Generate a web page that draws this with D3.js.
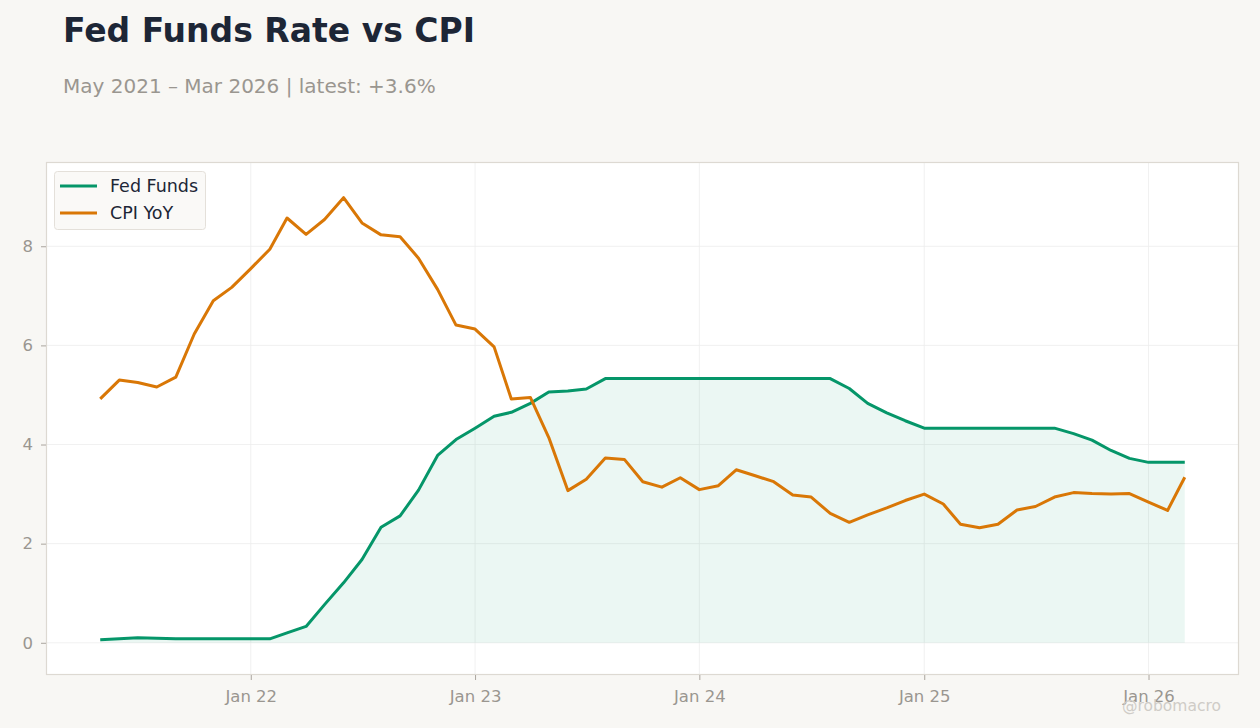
<!DOCTYPE html>
<html lang="en">
<head>
<meta charset="utf-8">
<title>Fed Funds Rate vs CPI</title>
<script src="https://d3js.org/d3.v7.min.js"></script>
<style>
  body { margin: 0; background: #f8f7f4; }
  svg { display: block; font-family: "DejaVu Sans", sans-serif; }
  .title { font-size: 33px; font-weight: bold; fill: #1d2636; }
  .subtitle { font-size: 20px; fill: #9a9690; }
  .tick text { font-size: 16.5px; fill: #9a9690; font-family: "DejaVu Sans", sans-serif; }
  .tick line { stroke: #aaa59e; }
  .legend text { font-size: 17.5px; fill: #1d2636; }
</style>
</head>
<body>
<svg width="1260" height="728"></svg>
<script>
// monthly, May 2021 -> Mar 2026
const startMonth = new Date(2021, 4, 1);
const fedFunds = [
  0.06, 0.08, 0.10, 0.09, 0.08, 0.08, 0.08, 0.08, 0.08, 0.08,
  0.20, 0.33, 0.77, 1.21, 1.68, 2.33, 2.56, 3.08, 3.78, 4.10,
  4.33, 4.57, 4.65, 4.83, 5.06, 5.08, 5.12, 5.33, 5.33, 5.33,
  5.33, 5.33, 5.33, 5.33, 5.33, 5.33, 5.33, 5.33, 5.33, 5.33,
  5.13, 4.83, 4.64, 4.48, 4.33, 4.33, 4.33, 4.33, 4.33, 4.33,
  4.33, 4.33, 4.22, 4.09, 3.88, 3.72, 3.64, 3.64, 3.64
];
const cpiYoY = [
  4.92, 5.30, 5.25, 5.16, 5.36, 6.23, 6.90, 7.17, 7.55, 7.94,
  8.57, 8.24, 8.54, 8.98, 8.47, 8.23, 8.19, 7.76, 7.13, 6.41,
  6.33, 5.97, 4.92, 4.95, 4.14, 3.07, 3.30, 3.73, 3.70, 3.25,
  3.14, 3.33, 3.09, 3.17, 3.49, 3.37, 3.25, 2.98, 2.94, 2.61,
  2.43, 2.58, 2.72, 2.87, 3.00, 2.80, 2.39, 2.32, 2.39, 2.68,
  2.75, 2.94, 3.03, 3.01, 3.00, 3.01, 2.84, 2.67, 3.34
];
const seriesNames = ["Fed Funds", "CPI YoY"];
const seriesColors = ["#059669", "#d97706"];
const yTicks = [0, 2, 4, 6, 8];
const xTickDates = [2022, 2023, 2024, 2025, 2026].map(y => new Date(y, 0, 1));

const dates = fedFunds.map((d, i) => d3.timeMonth.offset(startMonth, i));
const rows = dates.map((d, i) => ({ date: d, ff: fedFunds[i], cpi: cpiYoY[i] }));

const svg = d3.select("svg");
const box = { left: 46, right: 1239, top: 162, bottom: 675 };

// 5% margin either side of the data, like the source
const span = dates[dates.length - 1] - dates[0];
const x = d3.scaleTime()
  .domain([new Date(+dates[0] - span * 0.05), new Date(+dates[dates.length - 1] + span * 0.05)])
  .range([box.left, box.right]);
const y = d3.scaleLinear().domain([-0.65, 9.7]).range([box.bottom, box.top]);

// title
svg.append("text").attr("class", "title").attr("x", 63).attr("y", 42).text("Fed Funds Rate vs CPI");
svg.append("text").attr("class", "subtitle").attr("x", 63).attr("y", 93)
  .text("May 2021 \u2013 Mar 2026 | latest: +3.6%");

// plot area
svg.append("rect")
  .attr("x", box.left).attr("y", box.top)
  .attr("width", box.right - box.left).attr("height", box.bottom - box.top)
  .attr("fill", "#ffffff");

// grid
svg.append("g").selectAll("line").data(yTicks).join("line")
  .attr("x1", box.left).attr("x2", box.right)
  .attr("y1", d => y(d)).attr("y2", d => y(d))
  .attr("stroke", "#ececec").attr("stroke-width", 0.8);
svg.append("g").selectAll("line").data(xTickDates).join("line")
  .attr("x1", d => x(d)).attr("x2", d => x(d))
  .attr("y1", box.top).attr("y2", box.bottom)
  .attr("stroke", "#ececec").attr("stroke-width", 0.8);

// fed funds fill
const area = d3.area().x(d => x(d.date)).y0(y(0)).y1(d => y(d.ff));
svg.append("path").datum(rows).attr("d", area)
  .attr("fill", seriesColors[0]).attr("fill-opacity", 0.08);

// lines
const lineFF = d3.line().x(d => x(d.date)).y(d => y(d.ff));
const lineCPI = d3.line().x(d => x(d.date)).y(d => y(d.cpi));
svg.append("path").datum(rows).attr("d", lineFF)
  .attr("fill", "none").attr("stroke", seriesColors[0]).attr("stroke-width", 3)
  .attr("stroke-linejoin", "round");
svg.append("path").datum(rows).attr("d", lineCPI)
  .attr("fill", "none").attr("stroke", seriesColors[1]).attr("stroke-width", 3)
  .attr("stroke-linejoin", "round");

// frame
svg.append("rect")
  .attr("x", box.left + 0.5).attr("y", box.top + 0.5)
  .attr("width", box.right - box.left - 1).attr("height", box.bottom - box.top - 1)
  .attr("fill", "none").attr("stroke", "#ddd9d2").attr("stroke-width", 1.2);

// axes
const xAxis = svg.append("g").attr("transform", `translate(0,${box.bottom})`)
  .call(d3.axisBottom(x).tickValues(xTickDates).tickFormat(d3.timeFormat("Jan %y")).tickSize(5).tickPadding(10));
xAxis.select(".domain").remove();
const yAxis = svg.append("g").attr("transform", `translate(${box.left},0)`)
  .call(d3.axisLeft(y).tickValues(yTicks).tickSize(5).tickPadding(8));
yAxis.select(".domain").remove();

// legend
const lg = svg.append("g").attr("class", "legend");
lg.append("rect").attr("x", 54.5).attr("y", 171.5).attr("width", 151).attr("height", 58)
  .attr("rx", 3).attr("fill", "#faf9f7").attr("stroke", "#e4e0da");
seriesNames.forEach((name, i) => {
  const ly = 186 + i * 27;
  lg.append("line").attr("x1", 60).attr("x2", 97).attr("y1", ly).attr("y2", ly)
    .attr("stroke", seriesColors[i]).attr("stroke-width", 3);
  lg.append("text").attr("x", 110).attr("y", ly + 6).text(name);
});

// watermark (sits over the last tick label in the source too)
svg.append("text").attr("x", 1221).attr("y", 711).attr("text-anchor", "end")
  .attr("font-size", 15.5).attr("fill", "#cfccc7").text("@robomacro");
</script>
</body>
</html>
